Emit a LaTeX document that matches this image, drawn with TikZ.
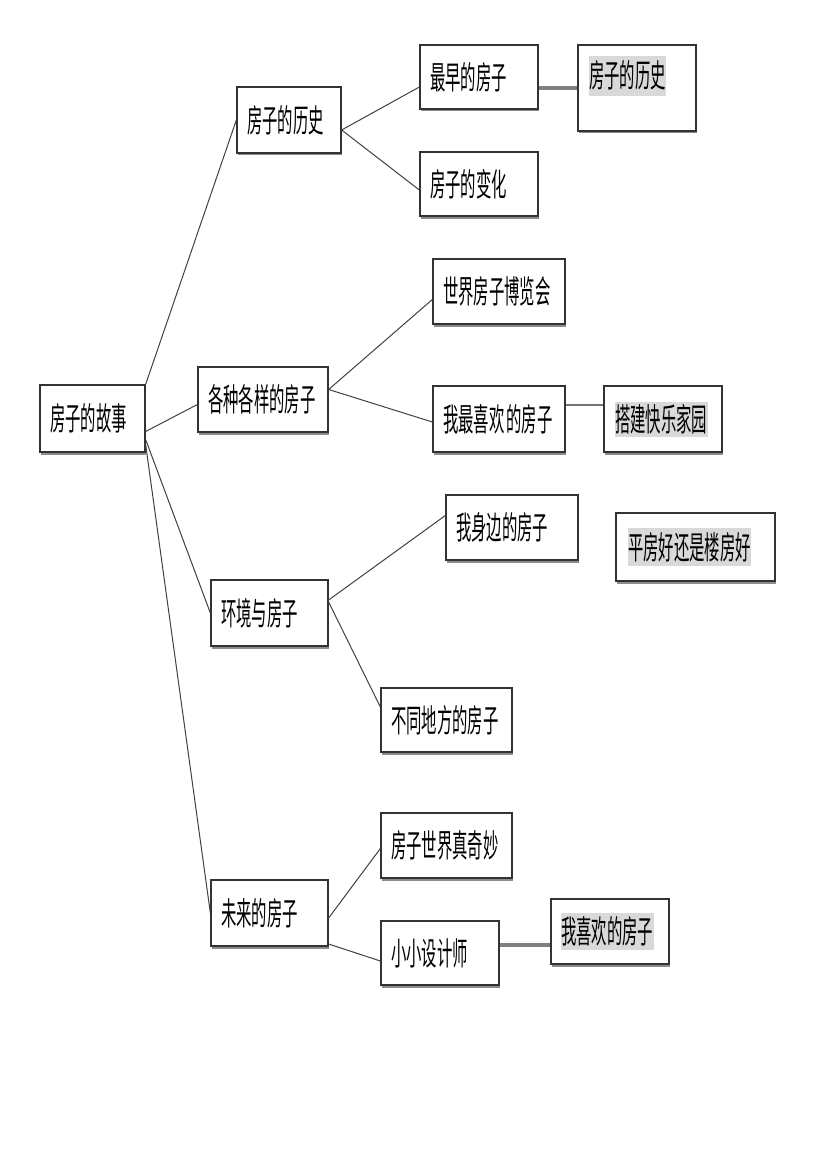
\documentclass[tikz,border=0pt]{standalone}
\usepackage{fontspec}
\setmainfont{Noto Sans CJK SC}[FakeStretch=0.48]
\usetikzlibrary{positioning,shadows}

\tikzset{
    box/.style={draw=black!80, line width=1.3pt, fill=white, inner xsep=10pt, inner ysep=0pt,
        align=left, drop shadow={shadow xshift=1pt, shadow yshift=-2.5pt, fill=black!45, opacity=1}},
    hl/.style={fill=gray!30, inner xsep=0.5pt, inner ysep=0pt, minimum height=37pt},
    link/.style={draw=black!75, line width=1pt},
    thicklink/.style={draw=black!50, line width=4pt},
    midlink/.style={draw=black!55, line width=2pt}
}

\begin{document}
\begin{tikzpicture}[x=1pt, y=-1pt, font=\fontsize{32pt}{34pt}\selectfont]
    \useasboundingbox (0,0) rectangle (826,1169);

    % first level
    \node[box, text width=85, minimum height=67] (root) at (92.5,418.5) {房子的故事};
    \node[box, text width=84, minimum height=66] (his) at (289,120) {房子的历史};
    \node[box, text width=110, minimum height=65] (kinds) at (263,399.5) {各种各样的房子};
    \node[box, text width=97, minimum height=66] (env) at (269.5,613) {环境与房子};
    \node[box, text width=97, minimum height=66] (fut) at (269.5,913) {未来的房子};

    % second level
    \node[box, text width=98, minimum height=64] (early) at (479,77) {最早的房子};
    \node[box, text width=98, minimum height=64] (change) at (479,184) {房子的变化};
    \node[box, text width=112, minimum height=65] (expo) at (499,291.5) {世界房子博览会};
    \node[box, text width=112, minimum height=66] (fav) at (499,419) {我最喜欢\kern2pt 的房子};
    \node[box, text width=112, minimum height=65] (near) at (512,527.5) {我身边的房子};
    \node[box, text width=111, minimum height=64] (places) at (446.5,720) {不同地方的房子};
    \node[box, text width=111, minimum height=65] (wonder) at (446.5,845.5) {房子世界真奇妙};
    \node[box, text width=98, minimum height=64] (design) at (440,953) {小小设计师};

    % third level (highlighted)
    \node[box, minimum width=118, minimum height=86] (his2) at (637,88) {};
    \node[hl, minimum height=40pt, below right=11pt and 11pt of his2.north west] (his2t) {房子的历史};
    \node[box, minimum width=118, minimum height=66] (build) at (663,419) {};
    \node[hl, minimum height=35pt, right=11pt of build.west] (buildt) {搭建快乐家园};
    \node[box, minimum width=159, minimum height=68] (flat) at (695.5,547) {};
    \node[hl, minimum height=38pt, right=12pt of flat.west] (flatt) {平房好还是楼房好};
    \node[box, minimum width=118, minimum height=65] (like) at (610,931.5) {};
    \node[hl, right=10pt of like.west] (liket) {我喜欢的房子};

    % connectors
    \draw[link] (root.north east) -- (his.west);
    \draw[link] ([yshift=-13pt]root.east) -- ([yshift=-5pt]kinds.west);
    \draw[link] ([yshift=-21pt]root.east) -- (env.west);
    \draw[link] ([yshift=-26pt]root.east) -- (fut.west);

    \draw[link] ([yshift=-10pt]his.east) -- ([yshift=-10pt]early.west);
    \draw[link] ([yshift=-10pt]his.east) -- ([yshift=-6pt]change.west);
    \draw[thicklink] ([yshift=-11pt]early.east) -- (his2.west);

    \draw[link] ([yshift=10pt]kinds.east) -- ([yshift=-8pt]expo.west);
    \draw[link] ([yshift=10pt]kinds.east) -- ([yshift=-3pt]fav.west);
    \draw[midlink] ([yshift=14pt]fav.east) -- ([yshift=14pt]build.west);

    \draw[link] ([yshift=13pt]env.east) -- ([yshift=12pt]near.west);
    \draw[link] ([yshift=11pt]env.east) -- ([yshift=13pt]places.west);

    \draw[link] ([yshift=-5pt]fut.east) -- ([yshift=-3pt]wonder.west);
    \draw[link] ([yshift=-31pt]fut.east) -- ([yshift=-8pt]design.west);
    \draw[thicklink] ([yshift=8pt]design.east) -- ([yshift=-13.5pt]like.west);
\end{tikzpicture}
\end{document}
